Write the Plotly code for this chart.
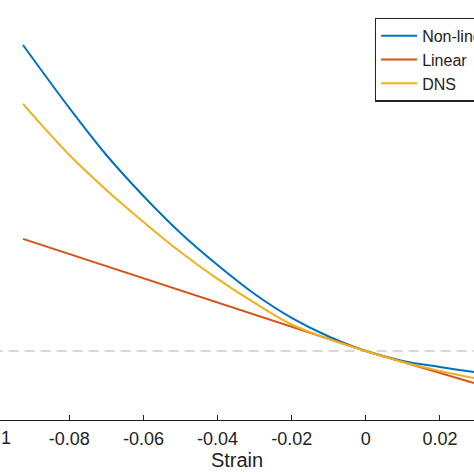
import plotly.graph_objects as go

# values
strain = [-0.0925, -0.08, -0.07, -0.06, -0.05, -0.04, -0.03, -0.02, -0.01, 0.0, 0.01, 0.02, 0.0292]
nonlinear = [3.217, 2.761, 2.420, 2.123, 1.855, 1.623, 1.413, 1.240, 1.105, 1.0, 0.928, 0.884, 0.848]
dns = [2.790, 2.420, 2.167, 1.935, 1.717, 1.522, 1.348, 1.192, 1.087, 1.0, 0.920, 0.855, 0.804]

strain_lin = [-0.0925, 0.0, 0.0292]
linear = [1.812, 1.0, 0.768]

x_ticks = [-0.1, -0.08, -0.06, -0.04, -0.02, 0, 0.02]
x_labels = ["-0.1", "-0.08", "-0.06", "-0.04", "-0.02", "0", "0.02"]

x_range = [-0.0987, 0.0292]

fig = go.Figure()

# dashed reference line
fig.add_trace(go.Scatter(x=[-0.2, 0.2], y=[1, 1], mode="lines", showlegend=False,
                         line=dict(color="#b4b4b4", width=1.2, dash="10px,6px"), hoverinfo="skip"))

fig.add_trace(go.Scatter(x=strain, y=nonlinear, mode="lines", name="Non-linear",
                         line=dict(color="#0072BD", width=2, shape="spline")))
fig.add_trace(go.Scatter(x=strain_lin, y=linear, mode="lines", name="Linear",
                         line=dict(color="#D95319", width=2)))
fig.add_trace(go.Scatter(x=strain, y=dns, mode="lines", name="DNS",
                         line=dict(color="#EDB120", width=2, shape="spline")))

# the first tick label sits just outside the cropped axis range
first_pos = (x_ticks[0] - x_range[0]) / (x_range[1] - x_range[0])
fig.add_annotation(x=first_pos, y=0, xref="paper", yref="paper", text=x_labels[0],
                   showarrow=False, yanchor="top", xanchor="center", yshift=-6,
                   font=dict(size=18))

fig.update_layout(
    width=474, height=474,
    margin=dict(l=0, r=0, t=0, b=54, autoexpand=False),
    plot_bgcolor="white", paper_bgcolor="white",
    font=dict(family="Liberation Sans, Arial, sans-serif", size=16, color="#222222"),
    legend=dict(x=0.791, y=0.958, xanchor="left", yanchor="top",
                bordercolor="#222222", borderwidth=1.2, bgcolor="white",
                font=dict(size=16), tracegroupgap=0, itemwidth=36),
    showlegend=True,
)
fig.update_xaxes(range=x_range, tickvals=x_ticks, ticktext=x_labels,
                 ticks="inside", ticklen=5, tickcolor="#222222",
                 showline=True, linecolor="#222222", linewidth=1.2,
                 showgrid=False, zeroline=False, automargin=False,
                 tickfont=dict(size=18), ticklabelstandoff=2,
                 title=dict(text="Strain", standoff=5, font=dict(size=20)))
fig.update_yaxes(range=[0.5, 3.543], visible=False, showgrid=False)

fig.write_html("out.html", config={"displayModeBar": False},
               post_script="document.body.style.margin='0';")
